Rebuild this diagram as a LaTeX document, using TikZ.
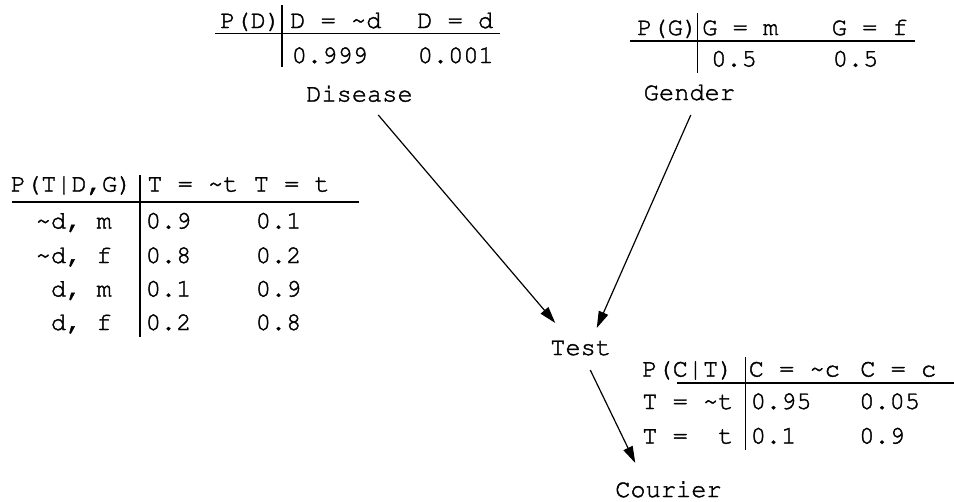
\documentclass[tikz,border=0pt]{standalone}
\usepackage[T1]{fontenc}
\usepackage{courier}
\usetikzlibrary{arrows.meta,calc}
% Courier is set with a thin outline stroke added, for a slightly heavier type
\newcommand\heavytype{\special{pdf:literal direct 2 Tr 0.3 w}}
\begin{document}
\begin{tikzpicture}[x=0.75pt,y=-0.75pt,
  txt/.style={anchor=base west,inner sep=0pt,font=\ttfamily\fontsize{19}{23}\selectfont\heavytype},
  lbl/.style={txt,anchor=base east},
  rule/.style={line width=0.9pt},
  link/.style={line width=0.9pt,-{Triangle[length=12.5pt,width=7.5pt]}}]
\useasboundingbox (0,0) rectangle (954,501);

% ---- P(D) table ----
\node[txt] (dH0) at (220,28) {P(D)};
\node[txt] (dH1) at (290,28) {D = \textasciitilde d};
\node[txt] (dH2) at (417,28) {D = d};
\node[txt] (dV1) at (291.5,63) {0.999};
\node[txt] (dV2) at (417.5,63) {0.001};
\draw[rule] (215,33.5) -- (500,33.5);
\draw[rule] (282,5) -- (282,67);
\node[txt] (Disease) at (306,101.5) {Disease};

% ---- P(G) table ----
\node[txt] (gH0) at (637,35) {P(G)};
\node[txt] (gH1) at (702,35) {G = m};
\node[txt] (gH2) at (831.5,35) {G = f};
\node[txt] (gV1) at (711,66.5) {0.5};
\node[txt] (gV2) at (832.5,66.5) {0.5};
\draw[rule] (630,41) -- (915,41);
\draw[rule] (697.5,13) -- (697.5,73);
\node[txt] (Gender) at (643.5,100) {Gender};

% ---- P(T|D,G) table ----
\node[txt] (tH0) at (10.5,191.5) {P(T|D,G)};
\node[txt] (tH1) at (147,191.5) {T = \textasciitilde t};
\node[txt] (tH2) at (253.5,191.5) {T = t};
\draw[rule] (11.5,202) -- (358.5,202);
\draw[rule] (140,175) -- (140,337);
\node[lbl] (tR1) at (112,228.5) {\textasciitilde d, m};
\node[lbl] (tR2) at (112,263) {\textasciitilde d, f};
\node[lbl] (tR3) at (112,296.5) {d, m};
\node[lbl] (tR4) at (112,330) {d, f};
\node[txt] (tA1) at (145.5,228.5) {0.9};
\node[txt] (tB1) at (255.5,228.5) {0.1};
\node[txt] (tA2) at (145.5,263) {0.8};
\node[txt] (tB2) at (255.5,263) {0.2};
\node[txt] (tA3) at (145.5,296.5) {0.1};
\node[txt] (tB3) at (255.5,296.5) {0.9};
\node[txt] (tA4) at (145.5,330) {0.2};
\node[txt] (tB4) at (255.5,330) {0.8};
\node[txt] (Test) at (550,355) {Test};

% ---- P(C|T) table ----
\node[txt] (cH0) at (642,376.5) {P(C|T)};
\node[txt] (cH1) at (748.5,376.5) {C = \textasciitilde c};
\node[txt] (cH2) at (860,376.5) {C = c};
\draw[rule] (677,383) -- (954,383);
\draw[rule] (745.5,357) -- (745.5,450);
\node[txt] (cR1) at (642,409) {T = \textasciitilde t};
\node[txt] (cR2) at (642,443.5) {T =\ \ t};
\node[txt] (cA1) at (750.5,409) {0.95};
\node[txt] (cB1) at (859,409) {0.05};
\node[txt] (cA2) at (750.5,443.5) {0.1};
\node[txt] (cB2) at (859,443.5) {0.9};
\node[txt] (Courier) at (615,497) {Courier};

% ---- dependencies ----
\draw[link] ($(Disease.base)+(18.8,13.5)$) -- ($(Test.base)+(-25.4,-32)$);
\draw[link] ($(Gender.base)+(1.4,15)$) -- ($(Test.base)+(16.1,-27)$);
\draw[link] ($(Test.base)+(9.6,15)$) -- ($(Courier.base)+(-33.2,-34)$);
\end{tikzpicture}
\end{document}
